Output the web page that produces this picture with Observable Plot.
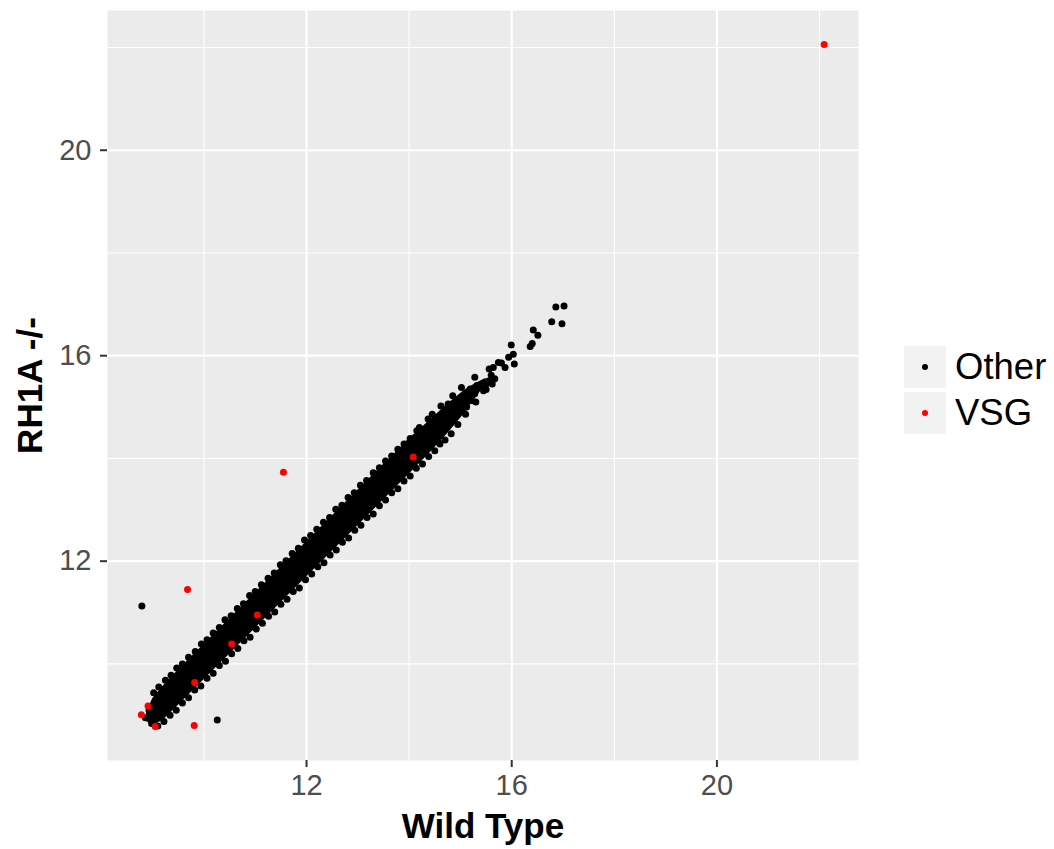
<!DOCTYPE html>
<html>
<head>
<meta charset="utf-8">
<script src="https://cdn.jsdelivr.net/npm/d3@7"></script>
<script src="https://cdn.jsdelivr.net/npm/@observablehq/plot@0.6"></script>
<style>
  body { margin: 0; background: #ffffff; }
  #wrap { position: relative; width: 1054px; height: 849px; font-family: "Liberation Sans", Arial, sans-serif; }
  .legend { position: absolute; left: 904px; top: 346px; }
  .legend .row { display: flex; align-items: center; height: 42px; margin-bottom: 4px; }
  .legend .key { width: 42px; height: 42px; background: #f2f2f2; position: relative; }
  .legend .key span { position: absolute; left: 18px; top: 18px; width: 6px; height: 6px; border-radius: 50%; }
  .legend .lab { margin-left: 9px; font-size: 36.5px; color: #000; line-height: 42px; }
</style>
</head>
<body>
<div id="wrap"></div>
<script>
// Axis ticks and grid
const majorTicks = [12, 16, 20];
const minorTicks = [10, 14, 18, 22];
const xTitle = "Wild Type";
const yTitle = "RH1A -/-";
const groups = ["Other", "VSG"];
const groupColors = ["#000000", "#ff0000"];

// Envelope of the saturated core of the "Other" cloud (log2 expression)
const coreX  = [8.88, 9.00, 9.20, 9.50, 10.00, 10.50, 11.00, 11.50, 12.00, 12.50, 13.00, 13.50, 14.00, 14.40, 14.80, 15.10, 15.30, 15.50];
const coreLo = [8.88, 8.80, 8.90, 9.19, 9.69, 10.19, 10.69, 11.19, 11.69, 12.19, 12.69, 13.19, 13.69, 14.10, 14.54, 14.90, 15.18, 15.44];
const coreHi = [9.04, 9.32, 9.56, 9.88, 10.38, 10.88, 11.38, 11.88, 12.38, 12.88, 13.38, 13.88, 14.37, 14.74, 15.10, 15.34, 15.46, 15.56];

// Individual "Other" genes: cloud edges, sparse upper tail and outliers
const otherX = [
  // upper edge
  9.02, 9.12, 9.25, 9.36, 9.47, 9.58, 9.70, 9.83, 9.95, 10.06, 10.18, 10.30, 10.41, 10.53, 10.65, 10.77,
  10.89, 11.00, 11.12, 11.25, 11.37, 11.49, 11.60, 11.72, 11.84, 11.96, 12.08, 12.20, 12.33, 12.45, 12.57,
  12.69, 12.81, 12.93, 13.05, 13.17, 13.30, 13.42, 13.54, 13.66, 13.78, 13.90, 14.02,
  // lower edge
  9.10, 9.22, 9.34, 9.46, 9.58, 9.70, 9.82, 9.94, 10.06, 10.18, 10.30, 10.42, 10.54, 10.66, 10.78, 10.90,
  11.02, 11.14, 11.26, 11.38, 11.50, 11.62, 11.74, 11.86, 11.98, 12.10, 12.22, 12.34, 12.46, 12.58, 12.70,
  12.82, 12.94, 13.06, 13.18, 13.30, 13.42, 13.54, 13.66, 13.78, 13.90, 14.02, 14.14, 14.26, 14.38, 14.50,
  14.60, 14.70,
  // low end of the cloud
  8.86, 8.98, 9.02, 8.93,
  // upper part of the cloud
  14.20, 14.45, 14.62, 14.85, 15.02, 15.28, 14.82, 14.95, 15.10, 15.30, 15.50, 15.62,
  // upper tail
  14.37, 14.50, 14.63, 14.15, 14.11, 14.31, 13.98, 14.76, 14.70, 14.89, 14.83, 14.96, 15.12, 15.06, 15.22,
  15.19, 15.32, 15.45, 15.55, 15.67, 15.56, 15.64, 15.74, 15.87, 16.05, 15.94, 16.03, 15.99, 16.36, 16.40,
  16.51, 16.42, 16.78, 16.98, 16.86, 17.02, 14.57, 14.44, 15.28, 15.40, 15.50, 15.60, 15.80,
  // outliers
  8.79, 10.26
];
const otherY = [
  9.44, 9.55, 9.68, 9.78, 9.92, 10.00, 10.13, 10.24, 10.39, 10.47, 10.60, 10.71, 10.86, 10.94, 11.08, 11.17,
  11.33, 11.41, 11.54, 11.67, 11.77, 11.93, 12.01, 12.15, 12.25, 12.41, 12.50, 12.62, 12.76, 12.85, 13.01,
  13.09, 13.24, 13.33, 13.48, 13.57, 13.72, 13.82, 13.95, 14.05, 14.18, 14.28, 14.39,
  8.79, 8.88, 9.00, 9.10, 9.24, 9.34, 9.49, 9.57, 9.72, 9.82, 9.97, 10.05, 10.20, 10.30, 10.45, 10.52,
  10.68, 10.79, 10.93, 11.01, 11.16, 11.26, 11.41, 11.48, 11.64, 11.75, 11.89, 11.97, 12.12, 12.22, 12.37,
  12.45, 12.60, 12.70, 12.85, 12.92, 13.08, 13.19, 13.33, 13.41, 13.56, 13.66, 13.81, 13.89, 14.04, 14.15,
  14.28, 14.36,
  8.95, 8.84, 9.10, 9.10,
  14.60, 14.86, 15.02, 15.22, 15.38, 15.58, 14.48, 14.66, 14.86, 15.10, 15.34, 15.45,
  14.77, 14.74, 14.67, 14.54, 14.41, 14.35, 14.29, 15.06, 14.93, 14.93, 14.80, 15.13, 15.00, 15.22, 15.13,
  15.35, 15.42, 15.32, 15.51, 15.55, 15.74, 15.77, 15.87, 15.77, 15.84, 15.97, 16.03, 16.21, 16.18, 16.24,
  16.40, 16.50, 16.66, 16.62, 16.95, 16.97, 14.32, 14.62, 15.26, 15.40, 15.45, 15.62, 15.86,
  11.13, 8.91
];

// VSG genes
const vsgX = [22.09, 11.55, 9.68, 9.81, 14.08, 11.04, 10.54, 9.82, 8.91, 8.78, 9.05];
const vsgY = [22.06, 13.73, 11.45, 8.80, 14.03, 10.95, 10.39, 9.64, 9.18, 9.01, 8.78];

const band = coreX.map((x, i) => ({x, lo: coreLo[i], hi: coreHi[i]}));
const other = otherX.map((x, i) => ({x, y: otherY[i]}));
const vsg = vsgX.map((x, i) => ({x, y: vsgY[i]}));

const font = "'Liberation Sans', Arial, sans-serif";

const chart = Plot.plot({
  width: 1054,
  height: 849,
  marginLeft: 107,
  marginRight: 196,
  marginTop: 10,
  marginBottom: 89,
  x: {domain: [8.12, 22.76]},
  y: {domain: [8.12, 22.72]},
  style: {fontFamily: font, fontSize: "29px", background: "white", overflow: "visible"},
  marks: [
    Plot.frame({fill: "#ebebeb", stroke: null}),
    Plot.ruleX(minorTicks, {stroke: "white", strokeWidth: 1.1}),
    Plot.ruleY(minorTicks, {stroke: "white", strokeWidth: 1.1}),
    Plot.ruleX(majorTicks, {stroke: "white", strokeWidth: 2.2}),
    Plot.ruleY(majorTicks, {stroke: "white", strokeWidth: 2.2}),
    Plot.axisX({ticks: majorTicks, tickSize: 7, tickPadding: 7, stroke: "#333333", strokeWidth: 2, fill: "#4d4d4d", label: null, tickFormat: d => d}),
    Plot.axisY({ticks: majorTicks, tickSize: 7, tickPadding: 9, stroke: "#333333", strokeWidth: 2, fill: "#4d4d4d", label: null, tickFormat: d => d}),
    Plot.areaY(band, {x: "x", y1: "lo", y2: "hi", fill: groupColors[0]}),
    Plot.dot(other, {x: "x", y: "y", r: 3.5, fill: groupColors[0]}),
    Plot.dot(vsg, {x: "x", y: "y", r: 3.5, fill: groupColors[1]}),
    Plot.text([xTitle], {text: d => d, frameAnchor: "bottom", dy: 66, lineAnchor: "middle", textAnchor: "middle", fontSize: 35, fontWeight: "bold", fill: "black"}),
    Plot.text([yTitle], {text: d => d, frameAnchor: "left", dx: -77, rotate: -90, lineAnchor: "middle", textAnchor: "middle", fontSize: 35, fontWeight: "bold", fill: "black"})
  ]
});

const wrap = document.getElementById("wrap");
wrap.appendChild(chart);

// Legend
const legend = document.createElement("div");
legend.className = "legend";
groups.forEach((g, i) => {
  const row = document.createElement("div");
  row.className = "row";
  const key = document.createElement("div");
  key.className = "key";
  const dot = document.createElement("span");
  dot.style.background = groupColors[i];
  key.appendChild(dot);
  const lab = document.createElement("div");
  lab.className = "lab";
  lab.textContent = g;
  row.appendChild(key);
  row.appendChild(lab);
  legend.appendChild(row);
});
wrap.appendChild(legend);
</script>
</body>
</html>
